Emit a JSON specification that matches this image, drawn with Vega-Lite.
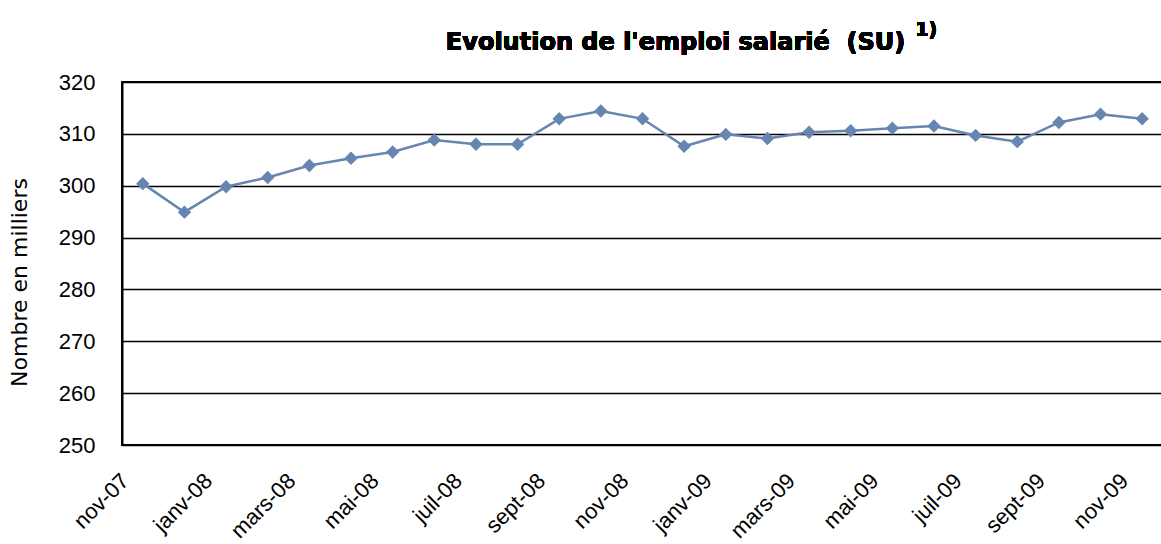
{
  "$schema": "https://vega.github.io/schema/vega-lite/v6.json",
  "autosize": "none",
  "width": 1041,
  "height": 363,
  "padding": {"left": 122, "top": 82, "right": 0, "bottom": 99},
  "background": "white",
  "config": {
    "font": "Liberation Sans",
    "view": {"stroke": "black", "strokeWidth": 2}
  },
  "data": {
    "values": [
      {"mois": "nov-07", "emploi": 300.4},
      {"mois": "déc-07", "emploi": 294.9},
      {"mois": "janv-08", "emploi": 299.8},
      {"mois": "févr-08", "emploi": 301.6},
      {"mois": "mars-08", "emploi": 303.9},
      {"mois": "avr-08", "emploi": 305.3},
      {"mois": "mai-08", "emploi": 306.5},
      {"mois": "juin-08", "emploi": 308.8},
      {"mois": "juil-08", "emploi": 308.0},
      {"mois": "août-08", "emploi": 308.0},
      {"mois": "sept-08", "emploi": 312.9},
      {"mois": "oct-08", "emploi": 314.4},
      {"mois": "nov-08", "emploi": 312.9},
      {"mois": "déc-08", "emploi": 307.6},
      {"mois": "janv-09", "emploi": 309.9},
      {"mois": "févr-09", "emploi": 309.1},
      {"mois": "mars-09", "emploi": 310.3},
      {"mois": "avr-09", "emploi": 310.6},
      {"mois": "mai-09", "emploi": 311.1},
      {"mois": "juin-09", "emploi": 311.5},
      {"mois": "juil-09", "emploi": 309.7},
      {"mois": "août-09", "emploi": 308.5},
      {"mois": "sept-09", "emploi": 312.2},
      {"mois": "oct-09", "emploi": 313.8},
      {"mois": "nov-09", "emploi": 312.9}
    ]
  },
  "layer": [
    {
      "mark": {"type": "line", "color": "#6685B0", "strokeWidth": 2.5, "point": {"shape": "diamond", "size": 180, "filled": true, "color": "#6685B0", "opacity": 1}},
      "encoding": {
        "x": {
          "field": "mois",
          "type": "ordinal",
          "sort": null,
          "scale": {"type": "point", "padding": 0.5, "domain": ["nov-07", "déc-07", "janv-08", "févr-08", "mars-08", "avr-08", "mai-08", "juin-08", "juil-08", "août-08", "sept-08", "oct-08", "nov-08", "déc-08", "janv-09", "févr-09", "mars-09", "avr-09", "mai-09", "juin-09", "juil-09", "août-09", "sept-09", "oct-09", "nov-09"]},
          "axis": {
            "title": null,
            "values": ["nov-07", "janv-08", "mars-08", "mai-08", "juil-08", "sept-08", "nov-08", "janv-09", "mars-09", "mai-09", "juil-09", "sept-09", "nov-09"],
            "labelAngle": -45,
            "labelAlign": "right",
            "labelBaseline": "middle",
            "labelFontSize": 22,
            "labelColor": "black",
            "labelPadding": 32,
            "labelOffset": -18,
            "labelOverlap": false,
            "ticks": false,
            "domain": false,
            "grid": false
          }
        },
        "y": {
          "field": "emploi",
          "type": "quantitative",
          "scale": {"domain": [250, 320], "nice": false, "zero": false},
          "axis": {
            "title": "Nombre en milliers",
            "titleFont": "DejaVu Sans",
            "titleFontSize": 22,
            "titleFontWeight": "normal",
            "titleColor": "black",
            "titleX": -96,
            "titleY": 200,
            "titleBaseline": "alphabetic",
            "values": [250, 260, 270, 280, 290, 300, 310, 320],
            "labelFontSize": 22,
            "labelColor": "black",
            "labelPadding": 27,
            "ticks": false,
            "domain": true,
            "domainColor": "black",
            "domainWidth": 2,
            "grid": true,
            "gridColor": "black",
            "gridWidth": 1.3,
            "gridOpacity": 1
          }
        }
      }
    },
    {
      "mark": {"type": "text", "text": "Evolution de l'emploi salarié\u00a0 (SU)", "font": "DejaVu Sans", "fontSize": 24, "fontWeight": "bold", "color": "black", "align": "center", "baseline": "alphabetic", "dx": 33, "dy": -32},
      "encoding": {
        "x": {"datum": "nov-08", "type": "ordinal"},
        "y": {"datum": 320, "type": "quantitative"}
      }
    },
    {
      "mark": {"type": "text", "text": "1)", "font": "DejaVu Sans", "fontSize": 19, "fontWeight": "bold", "color": "black", "align": "left", "baseline": "alphabetic", "dx": 23, "dy": -46},
      "encoding": {
        "x": {"datum": "mai-09", "type": "ordinal"},
        "y": {"datum": 320, "type": "quantitative"}
      }
    }
  ]
}
